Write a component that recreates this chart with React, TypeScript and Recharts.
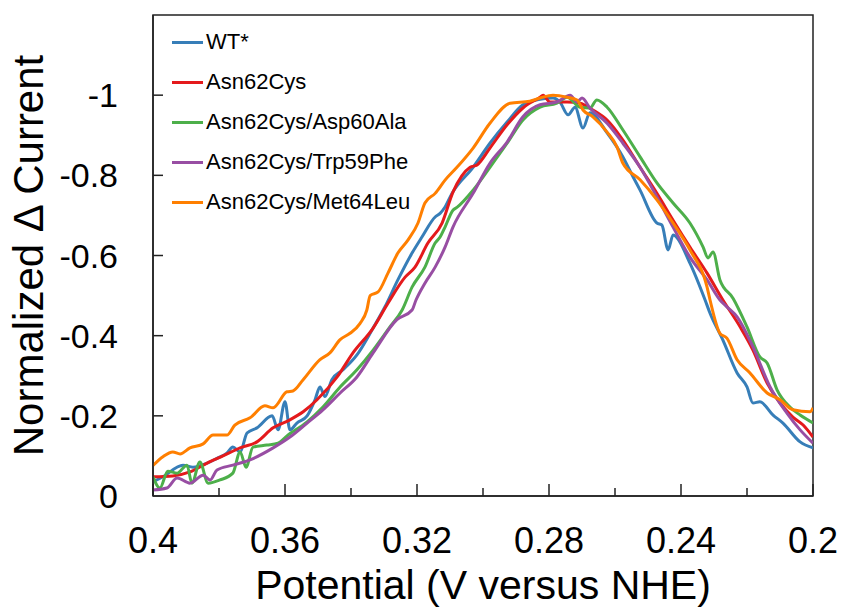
import { LineChart, Line, XAxis, YAxis, ReferenceArea, Legend } from 'recharts'

// potential (V) , normalized delta current
const wt: [number, number][] = [
  [0.4, -0.035], [0.397, -0.048], [0.3909, -0.077], [0.3879, -0.072], [0.3836, -0.082],
  [0.3806, -0.094], [0.3776, -0.107], [0.3758, -0.122], [0.3736, -0.11], [0.3715, -0.157],
  [0.3685, -0.17], [0.3639, -0.2], [0.3621, -0.165], [0.36, -0.235], [0.3585, -0.165],
  [0.3564, -0.182], [0.3533, -0.2], [0.3509, -0.24], [0.3494, -0.272], [0.3479, -0.248],
  [0.3458, -0.29], [0.3424, -0.315], [0.3382, -0.352], [0.3333, -0.419], [0.3297, -0.472],
  [0.3258, -0.539], [0.3215, -0.606], [0.3185, -0.646], [0.3145, -0.696], [0.313, -0.705],
  [0.3115, -0.721], [0.3094, -0.755], [0.303, -0.82], [0.2979, -0.88], [0.2927, -0.933],
  [0.2879, -0.976], [0.2827, -0.99], [0.2788, -0.993], [0.2767, -0.983], [0.2742, -0.951],
  [0.2721, -0.97], [0.2697, -0.918], [0.2676, -0.956], [0.2624, -0.906], [0.2576, -0.846],
  [0.2545, -0.796], [0.2524, -0.763], [0.2473, -0.681], [0.2458, -0.676], [0.2439, -0.614],
  [0.2424, -0.651], [0.2373, -0.581], [0.2327, -0.489], [0.2312, -0.456], [0.2273, -0.389],
  [0.223, -0.307], [0.22, -0.272], [0.2182, -0.232], [0.2161, -0.235], [0.2121, -0.202],
  [0.2091, -0.182], [0.2039, -0.135], [0.2, -0.12],
]

const asn62cys: [number, number][] = [
  [0.4, -0.048], [0.394, -0.05], [0.3888, -0.06], [0.3836, -0.082], [0.3788, -0.1],
  [0.3736, -0.12], [0.3685, -0.135], [0.3636, -0.17], [0.3585, -0.19], [0.3545, -0.21],
  [0.3503, -0.24], [0.3442, -0.297], [0.3394, -0.357], [0.3333, -0.419], [0.3288, -0.481],
  [0.3236, -0.546], [0.3206, -0.571], [0.3167, -0.631], [0.3124, -0.681], [0.3091, -0.758],
  [0.3039, -0.82], [0.3018, -0.826], [0.2979, -0.868], [0.2927, -0.926], [0.2879, -0.968],
  [0.2827, -0.995], [0.2818, -1.0], [0.2797, -0.983], [0.2745, -0.983], [0.2706, -0.98],
  [0.2667, -0.963], [0.2624, -0.938], [0.2576, -0.888], [0.2524, -0.82], [0.2473, -0.755],
  [0.2424, -0.688], [0.2373, -0.621], [0.2321, -0.556], [0.2273, -0.489], [0.2221, -0.422],
  [0.2182, -0.364], [0.2139, -0.282], [0.21, -0.232], [0.2061, -0.197], [0.203, -0.177],
  [0.2, -0.147],
]

const asp60ala: [number, number][] = [
  [0.4, -0.048], [0.3979, -0.02], [0.3955, -0.062], [0.3927, -0.057], [0.3897, -0.077],
  [0.3882, -0.032], [0.3858, -0.085], [0.3833, -0.032], [0.3797, -0.04], [0.3758, -0.057],
  [0.3736, -0.11], [0.3718, -0.072], [0.3697, -0.122], [0.3655, -0.127], [0.3621, -0.132],
  [0.3594, -0.15], [0.3533, -0.185], [0.3485, -0.222], [0.3433, -0.272], [0.3382, -0.315],
  [0.3333, -0.364], [0.3282, -0.422], [0.3245, -0.464], [0.3215, -0.521], [0.3176, -0.571],
  [0.3145, -0.631], [0.313, -0.646], [0.3115, -0.671], [0.3091, -0.713], [0.3079, -0.72],
  [0.303, -0.763], [0.2979, -0.82], [0.2927, -0.88], [0.2879, -0.938], [0.2827, -0.97],
  [0.2776, -0.98], [0.2745, -0.995], [0.2706, -0.97], [0.2676, -0.968], [0.2655, -0.988],
  [0.2624, -0.97], [0.2576, -0.913], [0.2524, -0.846], [0.2473, -0.781], [0.2424, -0.731],
  [0.2373, -0.681], [0.2333, -0.621], [0.2318, -0.594], [0.2303, -0.609], [0.2282, -0.539],
  [0.2242, -0.493], [0.22, -0.422], [0.2161, -0.347], [0.2139, -0.332], [0.2109, -0.265],
  [0.207, -0.222], [0.2039, -0.202], [0.2, -0.182],
]

const trp59phe: [number, number][] = [
  [0.4, -0.015], [0.3958, -0.02], [0.3927, -0.045], [0.3888, -0.032], [0.3848, -0.052],
  [0.3827, -0.04], [0.3806, -0.065], [0.3758, -0.077], [0.3706, -0.09], [0.3636, -0.12],
  [0.3585, -0.147], [0.3533, -0.182], [0.3485, -0.215], [0.3433, -0.257], [0.3382, -0.297],
  [0.3333, -0.357], [0.3261, -0.44], [0.3215, -0.464], [0.3203, -0.489], [0.3176, -0.531],
  [0.3145, -0.571], [0.3115, -0.621], [0.3091, -0.671], [0.303, -0.755], [0.2979, -0.83],
  [0.2927, -0.883], [0.2879, -0.946], [0.2827, -0.976], [0.2776, -0.983], [0.2736, -1.0],
  [0.2715, -0.983], [0.27, -0.993], [0.2676, -0.968], [0.2624, -0.93], [0.2576, -0.88],
  [0.2524, -0.82], [0.2473, -0.746], [0.2424, -0.671], [0.2373, -0.596], [0.2321, -0.539],
  [0.2282, -0.489], [0.2261, -0.472], [0.223, -0.447], [0.2182, -0.372], [0.213, -0.272],
  [0.2079, -0.207], [0.2039, -0.165], [0.2, -0.132],
]

const met64leu: [number, number][] = [
  [0.4, -0.076], [0.397, -0.098], [0.394, -0.11], [0.3918, -0.105], [0.3888, -0.12],
  [0.3848, -0.13], [0.3818, -0.152], [0.3776, -0.152], [0.3752, -0.177], [0.3706, -0.195],
  [0.3661, -0.225], [0.3636, -0.22], [0.3594, -0.26], [0.3576, -0.262], [0.3545, -0.29],
  [0.3494, -0.34], [0.3464, -0.357], [0.3433, -0.39], [0.3403, -0.406], [0.3373, -0.43],
  [0.3352, -0.464], [0.3342, -0.5], [0.3318, -0.509], [0.3288, -0.556], [0.3258, -0.606],
  [0.3227, -0.639], [0.3197, -0.681], [0.3176, -0.731], [0.3145, -0.755], [0.3115, -0.788],
  [0.3079, -0.82], [0.303, -0.868], [0.2979, -0.93], [0.2918, -0.98], [0.2858, -0.985],
  [0.2827, -0.993], [0.2788, -1.0], [0.2745, -0.995], [0.2715, -0.988], [0.2697, -0.963],
  [0.2667, -0.946], [0.2624, -0.908], [0.2594, -0.871], [0.2576, -0.83], [0.2524, -0.789],
  [0.2473, -0.739], [0.2424, -0.681], [0.2373, -0.614], [0.2321, -0.521], [0.2312, -0.489],
  [0.2282, -0.406], [0.2261, -0.394], [0.223, -0.34], [0.2191, -0.307], [0.2139, -0.257],
  [0.21, -0.24], [0.2061, -0.215], [0.2009, -0.21], [0.2, -0.22],
]

const xTicks = [0.4, 0.38, 0.36, 0.34, 0.32, 0.3, 0.28, 0.26, 0.24, 0.22, 0.2]
const yTicks = [0, -0.2, -0.4, -0.6, -0.8, -1, -1.2]
const yTickLabels = ['0', '-0.2', '-0.4', '-0.6', '-0.8', '-1', '']

const series = [
  { name: 'WT*', data: wt, color: '#377eb8' },
  { name: 'Asn62Cys', data: asn62cys, color: '#e41a1c' },
  { name: 'Asn62Cys/Asp60Ala', data: asp60ala, color: '#4daf4a' },
  { name: 'Asn62Cys/Trp59Phe', data: trp59phe, color: '#984ea3' },
  { name: 'Asn62Cys/Met64Leu', data: met64leu, color: '#ff7f00' },
]

const font = '"Liberation Sans", Arial, sans-serif'
const axisColor = '#222'

function XTick({ x, y, payload }: any) {
  const v = payload.value
  const major = Math.round(v * 100) % 4 === 0
  return (
    <g>
      <line x1={x} x2={x} y1={y} y2={y - (major ? 12 : 8)} stroke={axisColor} strokeWidth={1.5} />
      {major && (
        <text x={x} y={y + 57} textAnchor="middle" fontSize={36} fontFamily={font} fill="#000">
          {String(+v.toFixed(2))}
        </text>
      )}
    </g>
  )
}

function YTick({ x, y, payload, index }: any) {
  const label = yTickLabels[yTicks.indexOf(payload.value)] ?? ''
  return (
    <g>
      {index > 0 && payload.value > -1.1 && (
        <line x1={x} x2={x + 10} y1={y} y2={y} stroke={axisColor} strokeWidth={1.5} />
      )}
      <text x={x - 35} y={y + 12} textAnchor="end" fontSize={34} fontFamily={font} fill="#000">
        {label}
      </text>
    </g>
  )
}

function LegendBox() {
  return (
    <div style={{ fontFamily: font, fontSize: 22, color: '#000' }}>
      {series.map((s) => (
        <div key={s.name} style={{ display: 'flex', alignItems: 'center', height: 40 }}>
          <span style={{ width: 31, height: 3, background: s.color, marginRight: 3 }} />
          <span>{s.name}</span>
        </div>
      ))}
    </div>
  )
}

function YTitle({ viewBox }: any) {
  const cy = viewBox.y + viewBox.height / 2
  return (
    <text
      transform={`translate(43, ${cy}) rotate(-90)`}
      textAnchor="middle"
      fontSize={42}
      fontFamily={font}
      fill="#000"
    >
      Normalized Δ Current
    </text>
  )
}

export default function App() {
  return (
    <div style={{ position: 'absolute', left: 0, top: 0, background: '#fff' }}>
      <LineChart width={841} height={609} margin={{ top: 15, right: 28, bottom: 0, left: 0 }}>
        <XAxis
          type="number"
          dataKey="v"
          domain={[0.2, 0.4]}
          reversed
          ticks={xTicks}
          interval={0}
          tickSize={0}
          tickMargin={0}
          tickLine={false}
          tick={<XTick />}
          height={113}
          axisLine={{ stroke: axisColor, strokeWidth: 1.5 }}
          allowDataOverflow
          label={{
            value: 'Potential (V versus NHE)',
            position: 'insideBottom',
            offset: 10,
            fontSize: 41,
            fontFamily: font,
            fill: '#000',
          }}
        />
        <YAxis
          type="number"
          domain={[-1.2, 0]}
          reversed
          ticks={yTicks}
          interval={0}
          tickSize={0}
          tickMargin={0}
          tickLine={false}
          tick={<YTick />}
          width={153}
          axisLine={{ stroke: axisColor, strokeWidth: 1.5 }}
          allowDataOverflow
          label={{ content: <YTitle /> }}
        />
        <ReferenceArea
          x1={0.4}
          x2={0.2}
          y1={-1.2}
          y2={0}
          fill="none"
          stroke={axisColor}
          strokeWidth={1.5}
          ifOverflow="visible"
        />
        <Legend
          layout="vertical"
          align="center"
          verticalAlign="middle"
          content={<LegendBox />}
          wrapperStyle={{ left: 172, top: 22, width: 'auto' }}
        />
        {series.map((s) => (
          <Line
            key={s.name}
            name={s.name}
            data={s.data.map(([v, c]) => ({ v, c }))}
            dataKey="c"
            type="monotone"
            stroke={s.color}
            strokeWidth={3}
            dot={false}
            isAnimationActive={false}
          />
        ))}
      </LineChart>
    </div>
  )
}
